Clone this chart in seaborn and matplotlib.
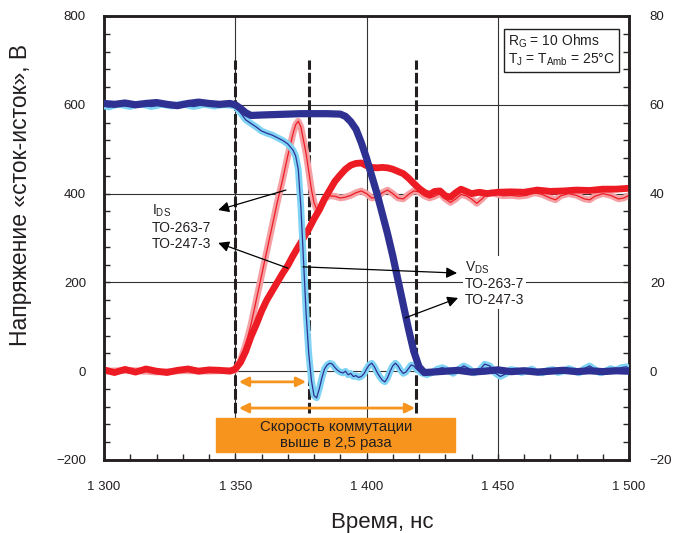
import matplotlib
matplotlib.use("Agg")
import matplotlib.pyplot as plt
from matplotlib.patches import Rectangle
from matplotlib.ticker import MultipleLocator
import seaborn as sns

## Switching waveforms: VDS and IDS for TO-263-7 vs TO-247-3

sns.set_style("white")
plt.rcParams['font.family'] = ['Liberation Sans', 'DejaVu Sans']
plt.rcParams['mathtext.default'] = 'regular'

# VDS, TO-263-7 (thin line with light blue halo), V
t_vds_263 = [1300, 1302, 1304, 1306, 1308, 1310, 1312, 1314, 1316, 1318, 1320, 1322, 1324, 1326, 1328,
             1330, 1332, 1334, 1336, 1338, 1340, 1342, 1344, 1346, 1348, 1350, 1352, 1354, 1356, 1358,
             1360, 1362, 1364, 1366, 1368, 1370, 1372, 1373, 1374, 1375, 1376, 1377, 1378, 1379, 1380,
             1381, 1382, 1383, 1384, 1385, 1386, 1387, 1388, 1389, 1390, 1391, 1392, 1393, 1394, 1395,
             1396, 1397, 1398, 1399, 1400, 1401, 1402, 1403, 1404, 1405, 1406, 1407, 1408, 1409, 1410,
             1411, 1412, 1413, 1414, 1415, 1416, 1417, 1418, 1419, 1421, 1423, 1425, 1427, 1429, 1431,
             1433, 1435, 1437, 1439, 1441, 1443, 1445, 1447, 1449, 1451, 1453, 1455, 1457, 1459, 1461,
             1463, 1465, 1467, 1469, 1471, 1473, 1475, 1477, 1479, 1481, 1483, 1485, 1487, 1489, 1491,
             1493, 1495, 1497, 1499, 1500]
v_vds_263 = [597, 595, 599, 601, 598, 596, 600, 602, 599, 596, 598, 601, 599, 597, 600,
             602, 599, 596, 598, 601, 599, 597, 599, 600, 599, 597, 582, 566, 558, 550,
             541, 536, 532, 526, 520, 512, 498, 485, 455, 370, 250, 130, 40, -20, -55,
             -60, -40, -15, 5, 14, 18, 16, 8, 2, -2, -4, 0, -8, -5, -12,
             -10, -14, -12, -6, 5, 14, 18, 10, -2, -12, -20, -24, -15, 0, 12,
             18, 12, 2, -5, -2, 6, 14, 12, 5, -4, -8, -3, 5, 8, 2,
             -5, 4, 12, 6, -4, 2, 16, 12, -4, -12, -6, 4, 2, -3, 0,
             5, -2, -4, 2, 4, -3, 0, 6, 2, -4, 6, 12, 4, -4, 0,
             6, 2, 8, 10, 6]

# VDS, TO-247-3 (thick navy line), V
t_vds_247 = [1300, 1304, 1308, 1312, 1316, 1320, 1324, 1328, 1332, 1336, 1340, 1344, 1348, 1350,
             1352, 1354, 1356, 1360, 1365, 1370, 1375, 1380, 1385, 1390, 1392, 1394, 1396, 1398,
             1400, 1402, 1404, 1406, 1408, 1410, 1412, 1414, 1416, 1418, 1420, 1422, 1425, 1430,
             1435, 1440, 1445, 1450, 1455, 1460, 1465, 1470, 1475, 1480, 1485, 1490, 1495, 1500]
v_vds_247 = [603, 601, 604, 600, 603, 605, 601, 598, 603, 606, 603, 601, 603, 600,
             592, 582, 576, 577, 578, 579, 580, 580, 580, 579, 574, 562, 545, 515,
             480, 440, 400, 355, 310, 260, 205, 150, 95, 45, 10, -3, -2, 0,
             2, -2, 0, 3, -1, 1, -2, 0, 2, -1, 1, -1, 1, 0]

# IDS, TO-263-7 (thin red line with pink halo), A
t_ids_263 = [1300, 1310, 1320, 1330, 1340, 1350, 1352, 1354, 1356, 1358, 1360, 1362, 1364, 1366,
             1368, 1370, 1372, 1373, 1374, 1375, 1376, 1377, 1378, 1379, 1380, 1381, 1382, 1383,
             1384, 1386, 1388, 1390, 1392, 1394, 1396, 1398, 1400, 1402, 1404, 1406, 1408, 1410,
             1412, 1414, 1416, 1418, 1420, 1422, 1424, 1426, 1428, 1430, 1432, 1434, 1436, 1438,
             1440, 1442, 1444, 1446, 1448, 1450, 1452, 1455, 1458, 1461, 1464, 1467, 1470, 1472,
             1474, 1477, 1480, 1483, 1485, 1487, 1490, 1493, 1496, 1498, 1500]
i_ids_263 = [0.0, 0.2, -0.2, 0.1, 0.0, 0.2, 2.5, 6.0, 10.5, 16.0, 21.5, 27.0, 32.5, 38.0,
             43.0, 48.5, 53.5, 55.5, 56.3, 55.0, 52.0, 49.0, 45.0, 41.0, 38.0, 36.5, 36.5, 37.5,
             38.8, 39.5, 39.4, 39.0, 39.2, 39.6, 40.2, 40.6, 40.0, 39.0, 39.2, 40.2, 40.8, 40.0,
             39.0, 38.8, 39.8, 40.6, 40.4, 39.5, 39.0, 39.4, 40.0, 38.8, 38.0, 38.8, 39.8, 39.5,
             38.8, 37.8, 38.8, 40.0, 40.2, 39.8, 39.5, 39.6, 39.4, 39.6, 40.2, 39.8, 39.0, 38.6,
             39.5, 40.0, 39.6, 38.8, 38.6, 39.4, 40.0, 39.6, 38.8, 39.0, 39.6]

# IDS, TO-247-3 (thick red line), A
t_ids_247 = [1300, 1304, 1308, 1312, 1316, 1320, 1324, 1328, 1332, 1336, 1340, 1344, 1348, 1350,
             1352, 1354, 1356, 1358, 1360, 1362, 1364, 1366, 1368, 1370, 1372, 1374, 1376, 1378,
             1380, 1382, 1384, 1386, 1388, 1390, 1392, 1394, 1396, 1398, 1400, 1402, 1404, 1406,
             1408, 1410, 1412, 1414, 1416, 1418, 1420, 1422, 1424, 1426, 1428, 1430, 1432, 1434,
             1436, 1438, 1440, 1443, 1446, 1450, 1455, 1460, 1465, 1470, 1475, 1480, 1485, 1490,
             1495, 1500]
i_ids_247 = [0.3, -0.3, 0.4, -0.2, 0.5, 0.0, -0.3, 0.2, 0.5, 0.0, 0.3, 0.2, 0.0, 0.5,
             2.0, 4.5, 7.8, 10.5, 13.5, 16.0, 18.0, 20.0, 22.0, 23.8, 26.0, 28.0, 30.0, 32.0,
             34.3, 36.3, 38.8, 40.8, 42.8, 44.2, 45.5, 46.4, 46.8, 46.9, 46.3, 45.9, 45.8, 45.9,
             45.8, 45.5, 45.0, 44.5, 43.5, 42.3, 41.2, 40.3, 39.8, 40.5, 40.6, 39.5, 39.2, 40.2,
             41.0, 40.5, 40.0, 40.3, 40.0, 40.3, 40.4, 40.3, 40.8, 40.5, 40.6, 40.8, 40.7, 41.0,
             41.0, 41.2]

# axis ticks
x_ticks = [1300, 1350, 1400, 1450, 1500]
x_tick_labels = ['1 300', '1 350', '1 400', '1 450', '1 500']
v_ticks = [-200, 0, 200, 400, 600, 800]
i_ticks = [-20, 0, 20, 40, 60, 80]

# markers: switching instants and speed arrows
dash_x = [1350, 1378, 1419]
arrow_start = 1351.4
arrow_short_end = 1377
arrow_long_end = 1418.5

txt = '#231f20'
navy = '#2e3192'
light_blue = '#7fd3f5'
red = '#ed1c24'
pink = '#f5a0a4'
orange = '#f7941d'

fig = plt.figure(figsize=(6.84, 5.33), dpi=100)
ax = fig.add_axes([104 / 684, 1 - 460 / 533, 525 / 684, 444 / 533])
ax_i = ax.twinx()
ax_v = ax.twinx()

# grid and dashed switching lines on bottom axes
ax.set_xlim(1300, 1500)
ax.set_ylim(-200, 800)
ax.grid(True, which='major', color='#333333', lw=0.8)
ax.vlines(dash_x, -95, 700, colors=txt, linestyles=(0, (3.5, 1)), lw=2.2, zorder=2)

# currents
sns.lineplot(x=t_ids_263, y=i_ids_263, ax=ax_i, color=pink, lw=4.8)
sns.lineplot(x=t_ids_263, y=i_ids_263, ax=ax_i, color=red, lw=0.9)
sns.lineplot(x=t_ids_247, y=i_ids_247, ax=ax_i, color=red, lw=4.9)
ax_i.set_ylim(-20, 80)

# voltages
sns.lineplot(x=t_vds_263, y=v_vds_263, ax=ax_v, color=light_blue, lw=4.8)
sns.lineplot(x=t_vds_263, y=v_vds_263, ax=ax_v, color=navy, lw=0.9)
sns.lineplot(x=t_vds_247, y=v_vds_247, ax=ax_v, color=navy, lw=5.2)
ax_v.set_ylim(-200, 800)
ax_v.set_xlim(1300, 1500)
ax_v.yaxis.set_visible(False)
for s in ax_v.spines.values():
    s.set_visible(False)

# ticks
ax.set_xticks(x_ticks, labels=x_tick_labels)
ax.set_yticks(v_ticks)
ax.xaxis.set_minor_locator(MultipleLocator(10))
ax.yaxis.set_minor_locator(MultipleLocator(40))
ax_i.set_yticks(i_ticks)
ax_i.yaxis.set_minor_locator(MultipleLocator(4))
ax.tick_params(axis='x', which='both', direction='in', length=4, width=1, pad=15,
               labelsize=9.5, labelcolor=txt, bottom=True, top=False)
ax.tick_params(axis='y', which='both', direction='in', length=4, width=1, pad=13,
               labelsize=9.5, labelcolor=txt, left=True, right=False)
ax_i.tick_params(axis='y', which='both', direction='in', length=4, width=1, pad=15,
                 labelsize=9.5, labelcolor=txt, right=True)
for a in (ax, ax_i):
    for s in a.spines.values():
        s.set_linewidth(1.8)
        s.set_color(txt)

ax.set_xlabel('Время, нс', fontsize=16, color=txt)
ax.xaxis.set_label_coords(0.53, -0.117)
ax.set_ylabel('Напряжение «сток-исток», В', fontsize=16.5, color=txt)
ax.yaxis.set_label_coords(-0.137, 0.597)
ax_i.set_ylabel('')
ax_v.set_ylabel('')

# label arrows
arrow_kw = dict(arrowstyle='-|>', color='black', lw=0.9, mutation_scale=16, shrinkA=0, shrinkB=0)
ax_v.annotate('', xy=(1343.5, 363), xytext=(1369.3, 408), arrowprops=arrow_kw)
ax_v.annotate('', xy=(1343.5, 289), xytext=(1370.1, 232), arrowprops=arrow_kw)
ax_v.annotate('', xy=(1434.5, 221), xytext=(1375.8, 235), arrowprops=arrow_kw)
ax_v.annotate('', xy=(1434.9, 165), xytext=(1414.7, 120), arrowprops=arrow_kw)

ax_v.text(1318.3, 379, 'I$_{DS}$\nTO-263-7\nTO-247-3', fontsize=10, color=txt,
          ha='left', va='top', linespacing=1.15)
ax_v.text(1437.5, 252, 'V$_{DS}$\nTO-263-7\nTO-247-3', fontsize=10, color=txt,
          ha='left', va='top', linespacing=1.15,
          bbox=dict(boxstyle='square,pad=0.15', fc='white', ec='none'))

# conditions box
ax_v.text(0.7695, 0.962, 'R$_G$ = 10 Ohms\nT$_J$ = T$_{Amb}$ = 25°C', transform=ax_v.transAxes,
          fontsize=10, color=txt, ha='left', va='top', linespacing=1.1,
          bbox=dict(boxstyle='square,pad=0.3', fc='white', ec=txt, lw=1))

# speed arrows and orange note
orange_kw = dict(arrowstyle='<|-|>', color=orange, lw=2, mutation_scale=14, shrinkA=0, shrinkB=0)
ax_v.annotate('', xy=(arrow_short_end, -24), xytext=(arrow_start, -24), arrowprops=orange_kw)
ax_v.annotate('', xy=(arrow_long_end, -83), xytext=(arrow_start, -83), arrowprops=orange_kw)
ax_v.add_patch(Rectangle((1342.7, -182), 91, 77, color=orange, zorder=5))
ax_v.text(1388.5, -143, 'Скорость коммутации\nвыше в 2,5 раза', fontsize=10.8, color=txt,
          ha='center', va='center', linespacing=1.2, zorder=6)

fig.savefig('out.png', dpi=100)
